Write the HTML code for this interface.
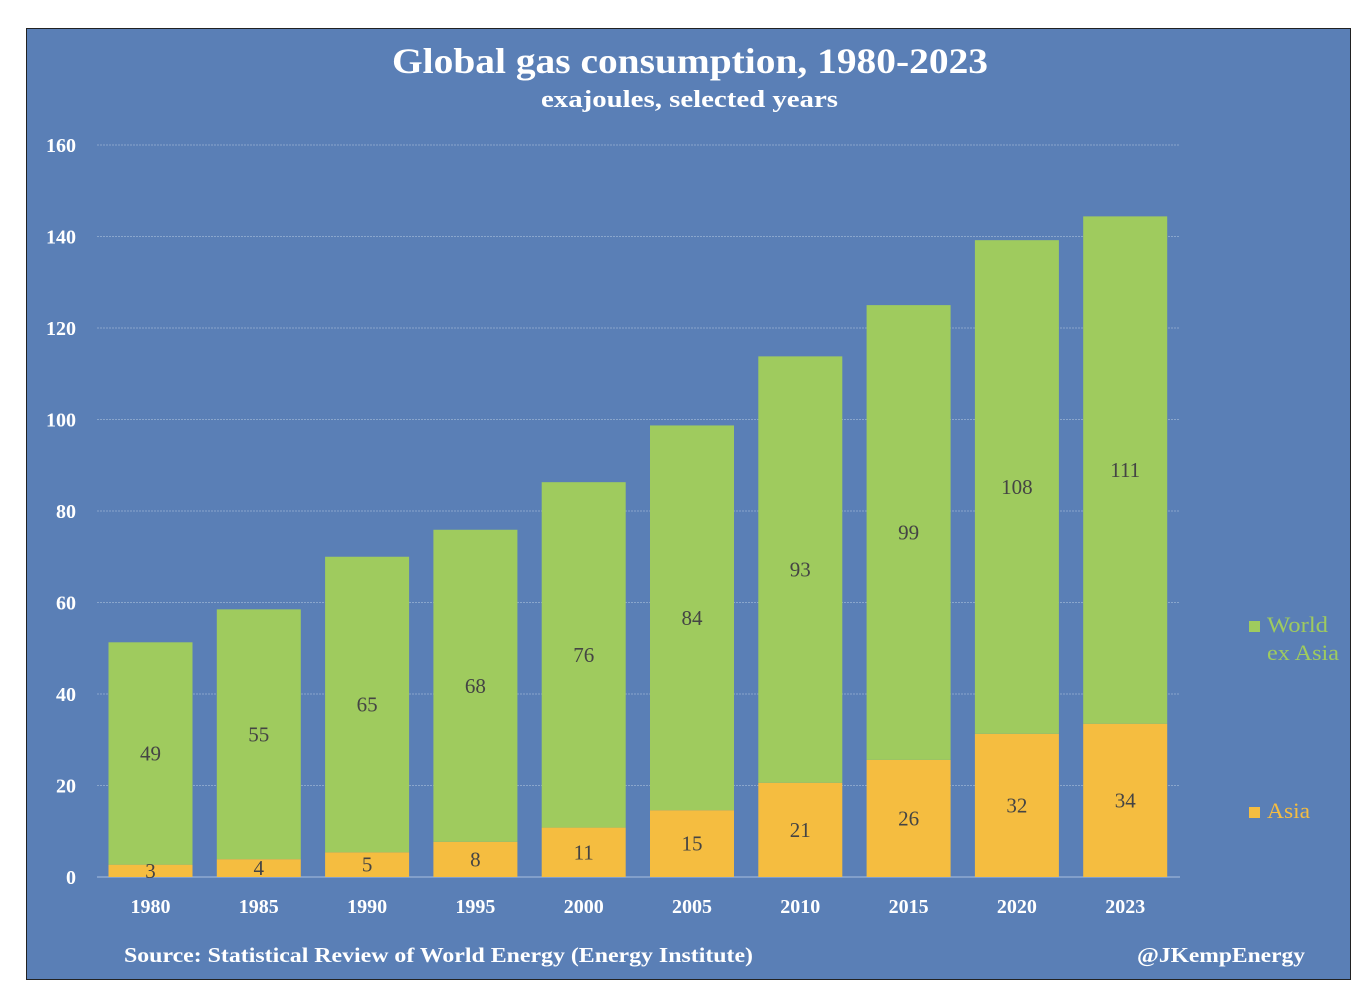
<!DOCTYPE html>
<html><head><meta charset="utf-8"><style>
body{margin:0;background:#fff;width:1366px;height:1002px;overflow:hidden;font-family:"Liberation Serif",serif}
#panel{position:absolute;left:26px;top:28px;width:1323px;height:950px;background:#5a7fb6;border:1px solid #222}
</style></head><body>
<div id="panel"></div>
<svg id="c" width="1366" height="1002" style="position:absolute;left:0;top:0">
<text x="392" y="73" textLength="596" lengthAdjust="spacingAndGlyphs" font-size="36" font-weight="bold" fill="#fff">Global gas consumption, 1980-2023</text>
<text x="541" y="107" textLength="297" lengthAdjust="spacingAndGlyphs" font-size="24" font-weight="bold" fill="#fff">exajoules, selected years</text>
<text x="124" y="962" textLength="629" lengthAdjust="spacingAndGlyphs" font-size="21" font-weight="bold" fill="#fff">Source: Statistical Review of World Energy (Energy Institute)</text>
<text x="1137" y="962" textLength="168" lengthAdjust="spacingAndGlyphs" font-size="21" font-weight="bold" fill="#fff">@JKempEnergy</text>
<g id="grid"></g><g id="bars"></g>
<rect x="1249" y="621" width="11" height="11" fill="#9fcb5e"/>
<text x="1267" y="632" textLength="61" lengthAdjust="spacingAndGlyphs" font-size="22" fill="#9fcb5e">World</text>
<text x="1267" y="660" textLength="72" lengthAdjust="spacingAndGlyphs" font-size="22" fill="#9fcb5e">ex Asia</text>
<rect x="1249" y="807" width="11" height="11" fill="#f5bd40"/>
<text x="1267" y="818" textLength="43" lengthAdjust="spacingAndGlyphs" font-size="22" fill="#f5bd40">Asia</text>
</svg>
<script>
const years=["1980","1985","1990","1995","2000","2005","2010","2015","2020","2023"];
const asia=[2.7,3.9,5.4,7.7,10.8,14.6,20.6,25.6,31.3,33.5];
const worldExAsia=[48.6,54.6,64.6,68.2,75.5,84.1,93.2,99.4,107.9,110.9];
const asiaLabels=["3","4","5","8","11","15","21","26","32","34"];
const worldLabels=["49","55","65","68","76","84","93","99","108","111"];
const yTicks=[0,20,40,60,80,100,120,140,160];
const NS="http://www.w3.org/2000/svg";
const y=v=>877-v*4.575, x=i=>150.5+i*108.3, bw=84;
function mk(t,a,p){const e=document.createElementNS(NS,t);for(const k in a)e.setAttribute(k,a[k]);p.appendChild(e);return e;}
const g=document.getElementById('grid'), b=document.getElementById('bars');
yTicks.forEach(v=>{
 const l=mk('line',{x1:97,x2:1180,y1:y(v),y2:y(v),stroke:v?'#8aa6cc':'#a9bfdd','stroke-width':1,'stroke-dasharray':v?'2,1':''},g);
 
 
 const t=mk('text',{x:76,y:y(v)+7,'text-anchor':'end','font-size':20,'font-weight':'bold',fill:'#fff'},g);t.textContent=v;
 
 
});
years.forEach((yr,i)=>{
 const cx=x(i);
 const ra=mk('rect',{x:cx-bw/2,y:y(asia[i]),width:bw,height:asia[i]*4.575,fill:'#f5bd40'},b);
 
 
 const tot=asia[i]+worldExAsia[i];
 const rw=mk('rect',{x:cx-bw/2,y:y(tot),width:bw,height:worldExAsia[i]*4.575,fill:'#9fcb5e'},b);
 
 
 const la=mk('text',{x:cx,y:y(asia[i]/2)+7,'text-anchor':'middle','font-size':21,fill:'#444'},b);la.textContent=asiaLabels[i];
 
 
 const lw=mk('text',{x:cx,y:y(asia[i]+worldExAsia[i]/2)+7,'text-anchor':'middle','font-size':21,fill:'#444'},b);lw.textContent=worldLabels[i];
 
 
 const xt=mk('text',{x:cx,y:913,'text-anchor':'middle','font-size':20,'font-weight':'bold',fill:'#fff'},b);xt.textContent=yr;
 
 
});
</script>
</body></html>
